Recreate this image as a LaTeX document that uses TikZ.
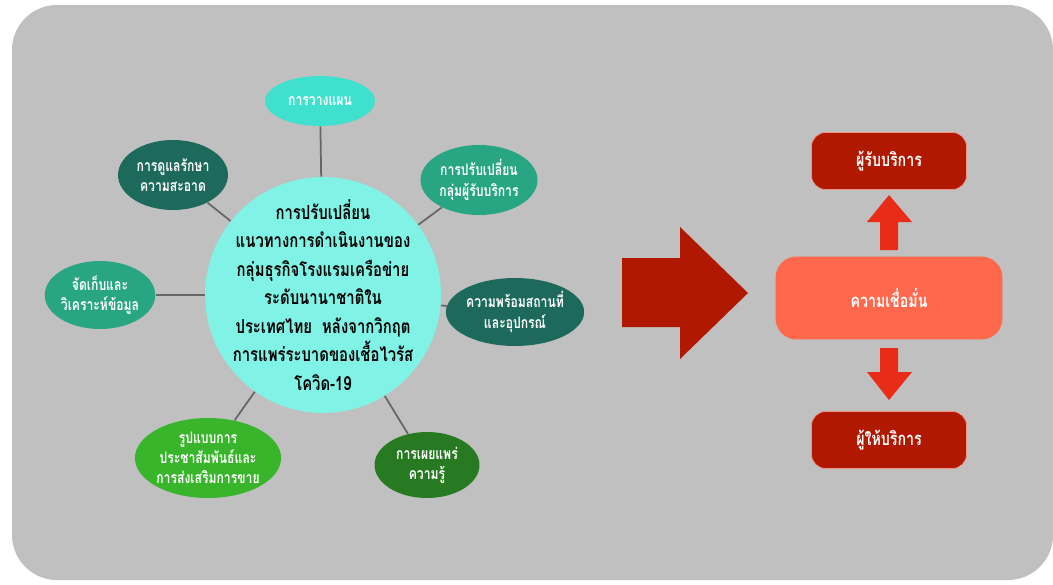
\documentclass[tikz,border=0pt]{standalone}
\usepackage{fontspec}
\usepackage{tikz}
\usetikzlibrary{shapes.geometric,backgrounds}
\newfontfamily\thaifont[Script=Thai,FakeStretch=0.77]{Loma}
\definecolor{bggray}{RGB}{192,192,192}
\definecolor{hubcyan}{RGB}{128,243,230}
\definecolor{turq}{RGB}{64,224,206}
\definecolor{darkteal}{RGB}{29,106,93}
\definecolor{midteal}{RGB}{40,165,130}
\definecolor{leafgreen}{RGB}{57,181,44}
\definecolor{darkgreen}{RGB}{40,122,34}
\definecolor{darkred}{RGB}{176,24,0}
\definecolor{salmon}{RGB}{255,104,76}
\definecolor{arrowred}{RGB}{232,44,24}

\begin{document}
\begin{tikzpicture}[
    x=0.02cm,y=-0.02cm,
    hub/.style={circle,fill=hubcyan,minimum size=4.72cm,inner sep=-0.4cm,align=center,
      font=\thaifont\bfseries\fontsize{11}{16.2}\selectfont},
    leaf/.style={ellipse,text=white,align=center,inner sep=0pt,
      font=\thaifont\bfseries\fontsize{9}{11.5}\selectfont},
    box/.style={rounded corners=8pt,text=white,draw={rgb,255:red,236;green,150;blue,130},
      font=\thaifont\bfseries\fontsize{10.5}{13}\selectfont},
    spoke/.style={draw=gray!80!black,line width=1pt}
    ]
    \useasboundingbox (0,0) rectangle (1053,584);
    \node[hub] (hub) at (323,295) {การปรับเปลี่ยน\\แนวทางการดำเนินงานของ\\กลุ่มธุรกิจโรงแรมเครือข่าย\\ระดับนานาชาติใน\\ประเทศไทย\ \ หลังจากวิกฤต\\การแพร่ระบาดของเชื้อไวรัส\\โควิด-19};
    \node[leaf,fill=turq,minimum width=2.2cm,minimum height=1.0cm] (plan) at (320,101) {การวางแผน};
    \node[leaf,fill=darkteal,minimum width=2.2cm,minimum height=1.4cm] (clean) at (173,175) {การดูแลรักษา\\ความสะอาด};
    \node[leaf,fill=midteal,minimum width=2.34cm,minimum height=1.4cm] (group) at (479,180) {การปรับเปลี่ยน\\กลุ่มผู้รับบริการ};
    \node[leaf,fill=midteal,minimum width=2.2cm,minimum height=1.36cm] (data) at (100,295) {จัดเก็บและ\\วิเคราะห์ข้อมูล};
    \node[leaf,fill=darkteal,minimum width=2.26cm,minimum height=1.36cm] (ready) at (515,312) {ความพร้อมสถานที่\\และอุปกรณ์};
    \node[leaf,fill=leafgreen,minimum width=2.9cm,minimum height=1.6cm] (pr) at (208,458) {รูปแบบการ\\ประชาสัมพันธ์และ\\การส่งเสริมการขาย};
    \node[leaf,fill=darkgreen,minimum width=2.1cm,minimum height=1.32cm] (know) at (427,465) {การเผยแพร่\\ความรู้};

    \begin{pgfonlayer}{background}
      \fill[bggray,rounded corners=0.9cm] (12,5) rectangle (1053,580);
      \foreach \n in {plan,clean,group,data,ready,pr,know}
        \draw[spoke] (hub) -- (\n);
    \end{pgfonlayer}

    % big block arrow
    \fill[darkred] (622,258) -- (680,258) -- (680,227) -- (748,293) -- (680,359)
      -- (680,327) -- (622,327) -- cycle;

    % right column
    \node[box,fill=darkred,minimum width=3.1cm,minimum height=1.14cm] (user) at (889,161) {ผู้รับบริการ};
    \node[box,fill=salmon,draw=none,rounded corners=12pt,minimum width=4.54cm,minimum height=1.66cm] (trust) at (889,298) {ความเชื่อมั่น};
    \node[box,fill=darkred,minimum width=3.1cm,minimum height=1.14cm] (prov) at (889,440) {ผู้ให้บริการ};
    \fill[arrowred] (880,250) -- (880,222) -- (867,222) -- (889,195) -- (912,222)
      -- (898,222) -- (898,250) -- cycle;
    \fill[arrowred] (880,348) -- (880,372) -- (867,372) -- (889,400) -- (912,372)
      -- (898,372) -- (898,348) -- cycle;
  \end{tikzpicture}
\end{document}
